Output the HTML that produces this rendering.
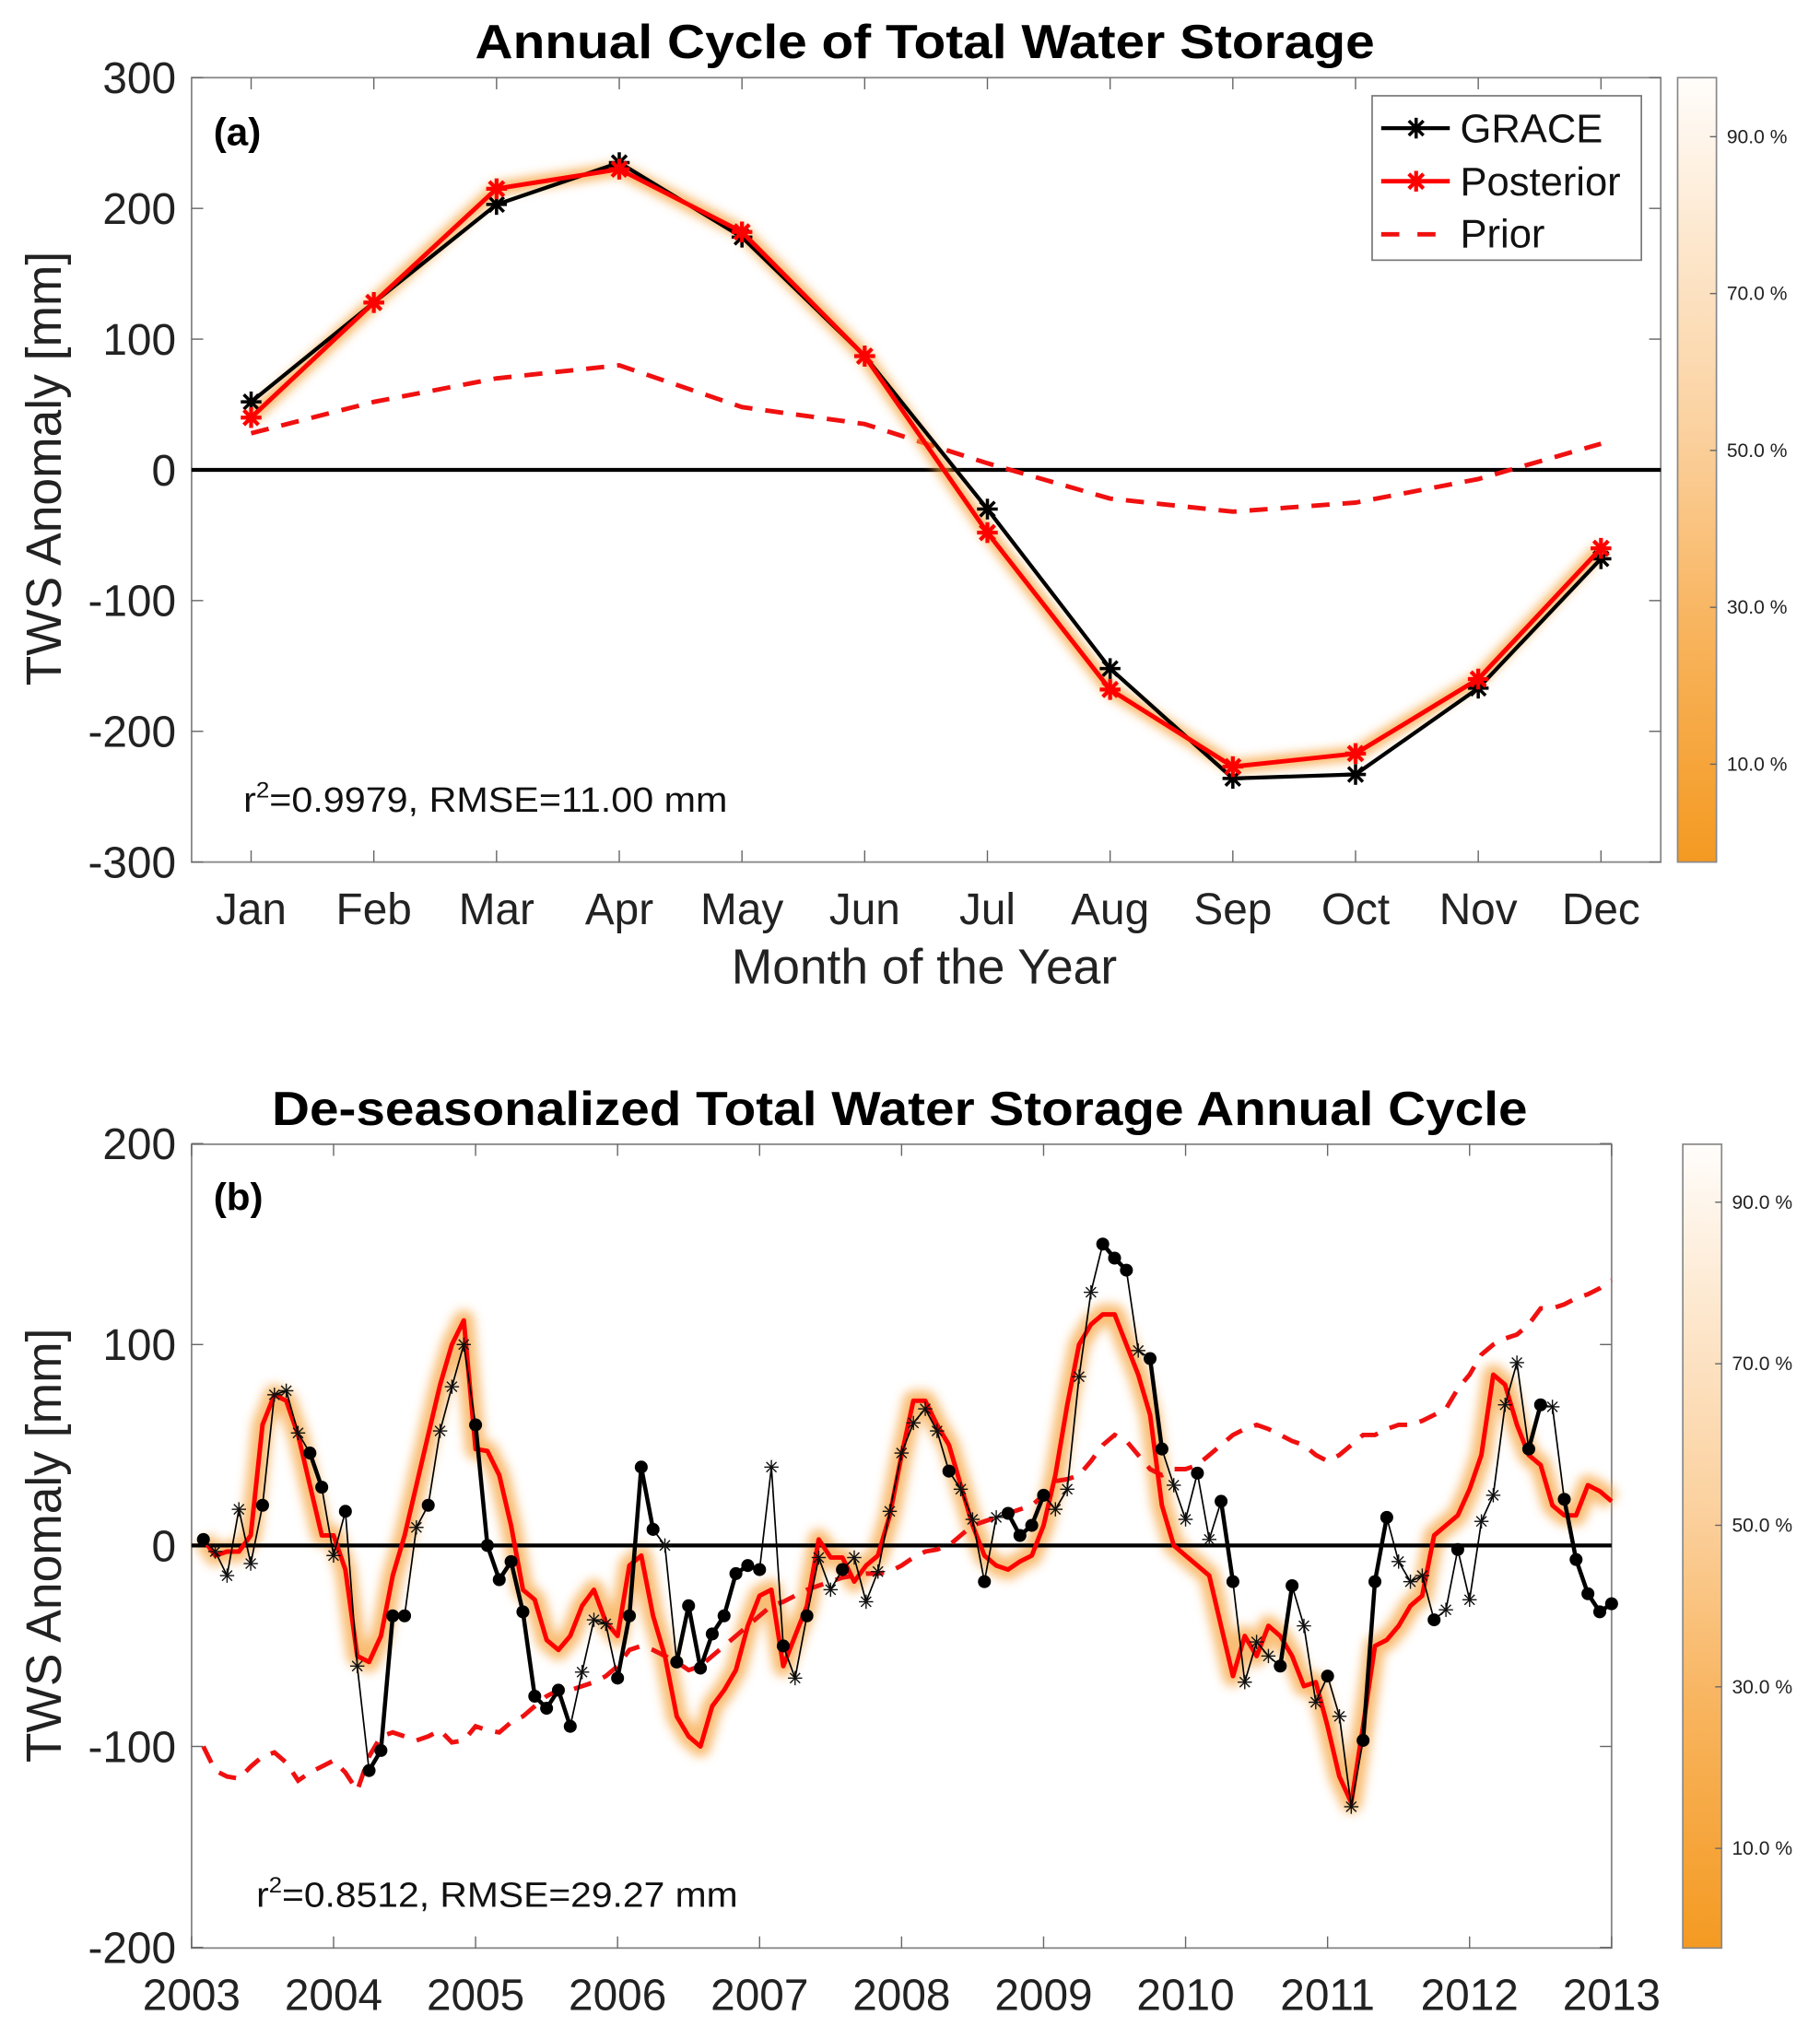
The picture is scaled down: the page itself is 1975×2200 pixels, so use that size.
<!DOCTYPE html>
<html><head><meta charset="utf-8">
<style>
html,body{margin:0;padding:0;background:#fff;}
svg{display:block;}
text{font-family:"Liberation Sans",Arial,sans-serif;}
</style></head>
<body>
<svg id="fig" width="1975" height="2200" viewBox="0 0 1406 1566" preserveAspectRatio="none" xmlns="http://www.w3.org/2000/svg">
<defs>
<filter id="blur" x="-10%" y="-20%" width="120%" height="140%"><feGaussianBlur stdDeviation="4"/></filter>
<linearGradient id="cbar" x1="0" y1="1" x2="0" y2="0">
<stop offset="0" stop-color="#f49a22"/><stop offset="0.3" stop-color="#f8b45e"/><stop offset="0.55" stop-color="#fbd19f"/><stop offset="0.8" stop-color="#fde8cf"/><stop offset="1" stop-color="#fffdfb"/>
</linearGradient>
</defs>
<g id="pa"></g>
<g id="pb"></g>
</svg>
<script>
// ---- Panel (a) data ----
const monthsA = ['Jan','Feb','Mar','Apr','May','Jun','Jul','Aug','Sep','Oct','Nov','Dec'];
const graceA = [52,128,203,235,178,87,-30,-152,-236,-233,-167,-68];
const postA = [40,128,215,230,182,87,-48,-168,-227,-217,-160,-60];
const priorA = [28,52,70,80,48,35,5,-22,-32,-25,-7,20];
const yTicksA = [300,200,100,0,-100,-200,-300];
const cbarTicks = ['10.0 %','30.0 %','50.0 %','70.0 %','90.0 %'];
const cbarTickVals = [10,30,50,70,90];
// ---- Panel (b) data (monthly, index 1..120 from Jan 2003) ----
const graceB = [3,-3,-15,18,-9,20,75,77,56,46,29,-5,17,-60,-112,-102,-35,-35,9,20,57,79,100,60,0,-17,-8,-33,-75,-81,-72,-90,-63,-37,-39,-66,-35,39,8,0,-58,-30,-61,-44,-35,-14,-10,-12,39,-50,-66,-35,-6,-22,-12,-6,-28,-13,17,46,61,68,57,37,28,13,-18,14,16,5,10,25,18,28,84,126,150,143,137,97,93,48,30,13,36,3,22,-18,-68,-48,-55,-60,-20,-40,-78,-65,-85,-130,-97,-18,14,-8,-18,-15,-37,-32,-2,-27,12,25,70,91,48,70,69,23,-7,-24,-33,-29];
const markerB = 'o****o***oo*o*oooo*o***ooooooooo***oooo*oooooooo*o*o**o********o**o*oooo****ooo*oo**o*oo***oo**o**ooo***o*o*****oo*ooooo'.split('');
const postB = [3,-5,-3,-3,5,60,75,72,55,30,5,5,-12,-55,-58,-45,-15,5,30,55,80,100,112,48,47,35,10,-22,-27,-47,-52,-45,-30,-22,-38,-45,-10,-5,-35,-55,-85,-95,-100,-80,-72,-62,-40,-25,-22,-60,-45,-30,3,-6,-6,-18,-10,-5,15,45,72,72,60,50,30,10,-5,-10,-12,-8,-5,10,35,70,100,110,115,115,100,85,65,20,0,-5,-10,-15,-40,-65,-45,-55,-40,-45,-55,-70,-68,-90,-115,-128,-90,-50,-47,-40,-30,-25,5,10,15,28,45,85,80,60,45,40,20,15,15,30,27,22];
const priorB = [-100,-112,-115,-116,-110,-105,-103,-108,-117,-113,-110,-107,-113,-122,-105,-95,-93,-95,-97,-95,-92,-98,-97,-90,-92,-93,-88,-85,-80,-75,-72,-72,-70,-68,-65,-60,-52,-50,-52,-55,-58,-62,-60,-55,-50,-45,-40,-35,-30,-28,-25,-22,-20,-18,-16,-15,-14,-14,-13,-10,-6,-3,-2,0,5,10,12,14,16,18,20,25,32,33,35,42,50,55,52,45,38,35,38,38,40,45,50,55,58,60,58,55,52,50,45,42,45,50,55,55,58,60,60,62,65,68,78,85,95,100,103,105,110,118,118,120,123,125,128,132];
const yearTicksB = [2003,2004,2005,2006,2007,2008,2009,2010,2011,2012,2013];
const yTicksB = [200,100,0,-100,-200];

const NS='http://www.w3.org/2000/svg';
function mk(parent, tag, attrs, txt){const e=document.createElementNS(NS,tag);for(const k in attrs)e.setAttribute(k,attrs[k]);if(txt!==undefined)e.textContent=txt;parent.appendChild(e);return e;}
function pts(xs,ys){return xs.map((x,i)=>x.toFixed(1)+','+ys[i].toFixed(1)).join(' ');}
function star(g,x,y,r,col,w){
  for(let a=0;a<4;a++){const t=a*Math.PI/4;mk(g,'line',{x1:x-r*Math.cos(t),y1:y-r*Math.sin(t),x2:x+r*Math.cos(t),y2:y+r*Math.sin(t),stroke:col,'stroke-width':w});}
}
function colorbar(g,x0,y0,x1,y1,vToY){
  const cb=mk(g,'rect',{x:x0,y:y0,width:x1-x0,height:y1-y0,fill:'url(#cbar)',stroke:'#888','stroke-width':1.2});
  
  
  cbarTickVals.forEach((v,i)=>{const y=vToY(v);
    mk(g,'line',{x1:x1-5,y1:y,x2:x1,y2:y,stroke:'#666','stroke-width':1});
    const t=mk(g,'text',{x:x1+8,y:y+5,'font-size':15,fill:'#222'},cbarTicks[i]);
    
    
  });
}

// ---------------- Panel A ----------------
(function(){
const g=document.getElementById('pa');
const L=148,R=1283,T=60,B=666;
const xA=i=>194+i*94.8;
const yA=v=>363-v*1.01;
const title=mk(g,'text',{x:367,y:45,'font-size':37,'font-weight':'bold',textLength:695,lengthAdjust:'spacingAndGlyphs'},'Annual Cycle of Total Water Storage');


mk(g,'rect',{x:L,y:T,width:R-L,height:B-T,fill:'#fff',stroke:'#888','stroke-width':1.3});
monthsA.forEach((m,i)=>{const x=xA(i);
  mk(g,'line',{x1:x,y1:B,x2:x,y2:B-9,stroke:'#666','stroke-width':1});
  mk(g,'line',{x1:x,y1:T,x2:x,y2:T+9,stroke:'#666','stroke-width':1});
  const t=mk(g,'text',{x:x,y:714,'font-size':34,'text-anchor':'middle',fill:'#222'},m);
  
  
});
yTicksA.forEach(v=>{const y=yA(v);
  mk(g,'line',{x1:L,y1:y,x2:L+9,y2:y,stroke:'#666','stroke-width':1});
  mk(g,'line',{x1:R,y1:y,x2:R-9,y2:y,stroke:'#666','stroke-width':1});
  const t=mk(g,'text',{x:136,y:y+12,'font-size':34,'text-anchor':'end',fill:'#222'},String(v));
  
  
});
const yl=mk(g,'text',{x:0,y:0,'font-size':38,'text-anchor':'middle',fill:'#222',transform:'translate(47,362) rotate(-90)'},'TWS Anomaly [mm]');


const xl=mk(g,'text',{x:714,y:760,'font-size':38,'text-anchor':'middle',fill:'#222'},'Month of the Year');


mk(g,'line',{x1:L,y1:yA(0),x2:R,y2:yA(0),stroke:'#000','stroke-width':3});
const xs=monthsA.map((m,i)=>xA(i));
const pr=mk(g,'polyline',{points:pts(xs,priorA.map(yA)),fill:'none',stroke:'#f01010','stroke-width':3.5,'stroke-dasharray':'14 10'});


mk(g,'polyline',{points:pts(xs,postA.map(yA)),fill:'none',stroke:'#f7a23a','stroke-width':10,'stroke-linejoin':'round',filter:'url(#blur)',opacity:0.8});
const gl=mk(g,'polyline',{points:pts(xs,graceA.map(yA)),fill:'none',stroke:'#000','stroke-width':3});


graceA.forEach((v,i)=>star(g,xs[i],yA(v),8,'#000',2.5));
const pl=mk(g,'polyline',{points:pts(xs,postA.map(yA)),fill:'none',stroke:'#ff0000','stroke-width':3.5});


postA.forEach((v,i)=>star(g,xs[i],yA(v),8,'#ff0000',3));
const lab=mk(g,'text',{x:165,y:112,'font-size':30,'font-weight':'bold'},'(a)');


const st=mk(g,'text',{x:188,y:627,'font-size':27,fill:'#111',textLength:374,lengthAdjust:'spacingAndGlyphs'});


mk(st,'tspan',{},'r');mk(st,'tspan',{dy:-11,'font-size':17},'2');mk(st,'tspan',{dy:11},'=0.9979, RMSE=11.00 mm');
const lg=mk(g,'g',{});


mk(lg,'rect',{x:1060,y:74,width:208,height:127,fill:'#fff',stroke:'#777','stroke-width':1.2});
mk(lg,'line',{x1:1067,y1:99,x2:1120,y2:99,stroke:'#000','stroke-width':3});star(lg,1094,99,8,'#000',2.5);
mk(lg,'line',{x1:1067,y1:140,x2:1120,y2:140,stroke:'#f00','stroke-width':3.5});star(lg,1094,140,8,'#f00',3);
mk(lg,'line',{x1:1067,y1:181,x2:1120,y2:181,stroke:'#f01010','stroke-width':3.5,'stroke-dasharray':'14 14'});
[['GRACE',110],['Posterior',151],['Prior',191]].forEach(a=>{const t=mk(lg,'text',{x:1128,y:a[1],'font-size':31,fill:'#111'},a[0]);
  
  });
colorbar(g,1296,60,1326,666,v=>651-6.06*v);
})();

// ---------------- Panel B ----------------
(function(){
const g=document.getElementById('pb');
const L=148,R=1245,T=884,B=1505;
const xB=t=>148+(t-2003)*109.7;
const yB=v=>1194-v*1.5525;
const title=mk(g,'text',{x:210,y:869,'font-size':37,'font-weight':'bold',textLength:970,lengthAdjust:'spacingAndGlyphs'},'De-seasonalized Total Water Storage Annual Cycle');


mk(g,'rect',{x:L,y:T,width:R-L,height:B-T,fill:'#fff',stroke:'#888','stroke-width':1.3});
yearTicksB.forEach(yr=>{const x=xB(yr);
  mk(g,'line',{x1:x,y1:B,x2:x,y2:B-9,stroke:'#666','stroke-width':1});
  mk(g,'line',{x1:x,y1:T,x2:x,y2:T+9,stroke:'#666','stroke-width':1});
  const t=mk(g,'text',{x:x,y:1553,'font-size':34,'text-anchor':'middle',fill:'#222'},String(yr));
  
  
});
yTicksB.forEach(v=>{const y=yB(v);
  mk(g,'line',{x1:L,y1:y,x2:L+9,y2:y,stroke:'#666','stroke-width':1});
  mk(g,'line',{x1:R,y1:y,x2:R-9,y2:y,stroke:'#666','stroke-width':1});
  const t=mk(g,'text',{x:136,y:y+12,'font-size':34,'text-anchor':'end',fill:'#222'},String(v));
  
  
});
const yl=mk(g,'text',{x:0,y:0,'font-size':38,'text-anchor':'middle',fill:'#222',transform:'translate(47,1194) rotate(-90)'},'TWS Anomaly [mm]');


const tOf=i=>2003+(i+1)/12;
const xsG=graceB.map((v,i)=>xB(tOf(i)));
const xsP=postB.map((v,i)=>xB(tOf(i)));
const xsR=priorB.map((v,i)=>xB(tOf(i)));
mk(g,'polyline',{points:pts(xsP,postB.map(yB)),fill:'none',stroke:'#f7a23a','stroke-width':16,'stroke-linejoin':'round',filter:'url(#blur)',opacity:0.7});
mk(g,'line',{x1:L,y1:yB(0),x2:R,y2:yB(0),stroke:'#000','stroke-width':3});
const pr=mk(g,'polyline',{points:pts(xsR,priorB.map(yB)),fill:'none',stroke:'#f01010','stroke-width':3.5,'stroke-dasharray':'14 10'});


const pl=mk(g,'polyline',{points:pts(xsP,postB.map(yB)),fill:'none',stroke:'#ff0000','stroke-width':3.5,'stroke-linejoin':'round'});


const gg=mk(g,'g',{});


for(let i=1;i<graceB.length;i++){
  const thick=markerB[i]==='o'&&markerB[i-1]==='o';
  mk(gg,'line',{x1:xsG[i-1],y1:yB(graceB[i-1]),x2:xsG[i],y2:yB(graceB[i]),stroke:'#000','stroke-width':thick?3.2:1.2});
}
graceB.forEach((v,i)=>{
  if(markerB[i]==='o'){mk(gg,'circle',{cx:xsG[i],cy:yB(v),r:5,fill:'#000'});}
  else star(gg,xsG[i],yB(v),5.5,'#111',1);
});
const lab=mk(g,'text',{x:165,y:935,'font-size':30,'font-weight':'bold'},'(b)');


const st=mk(g,'text',{x:198,y:1473,'font-size':27,fill:'#111',textLength:372,lengthAdjust:'spacingAndGlyphs'});


mk(st,'tspan',{},'r');mk(st,'tspan',{dy:-11,'font-size':17},'2');mk(st,'tspan',{dy:11},'=0.8512, RMSE=29.27 mm');
colorbar(g,1300,884,1330,1505,v=>1490.4-6.24*v);
})();
</script>
</body></html>
